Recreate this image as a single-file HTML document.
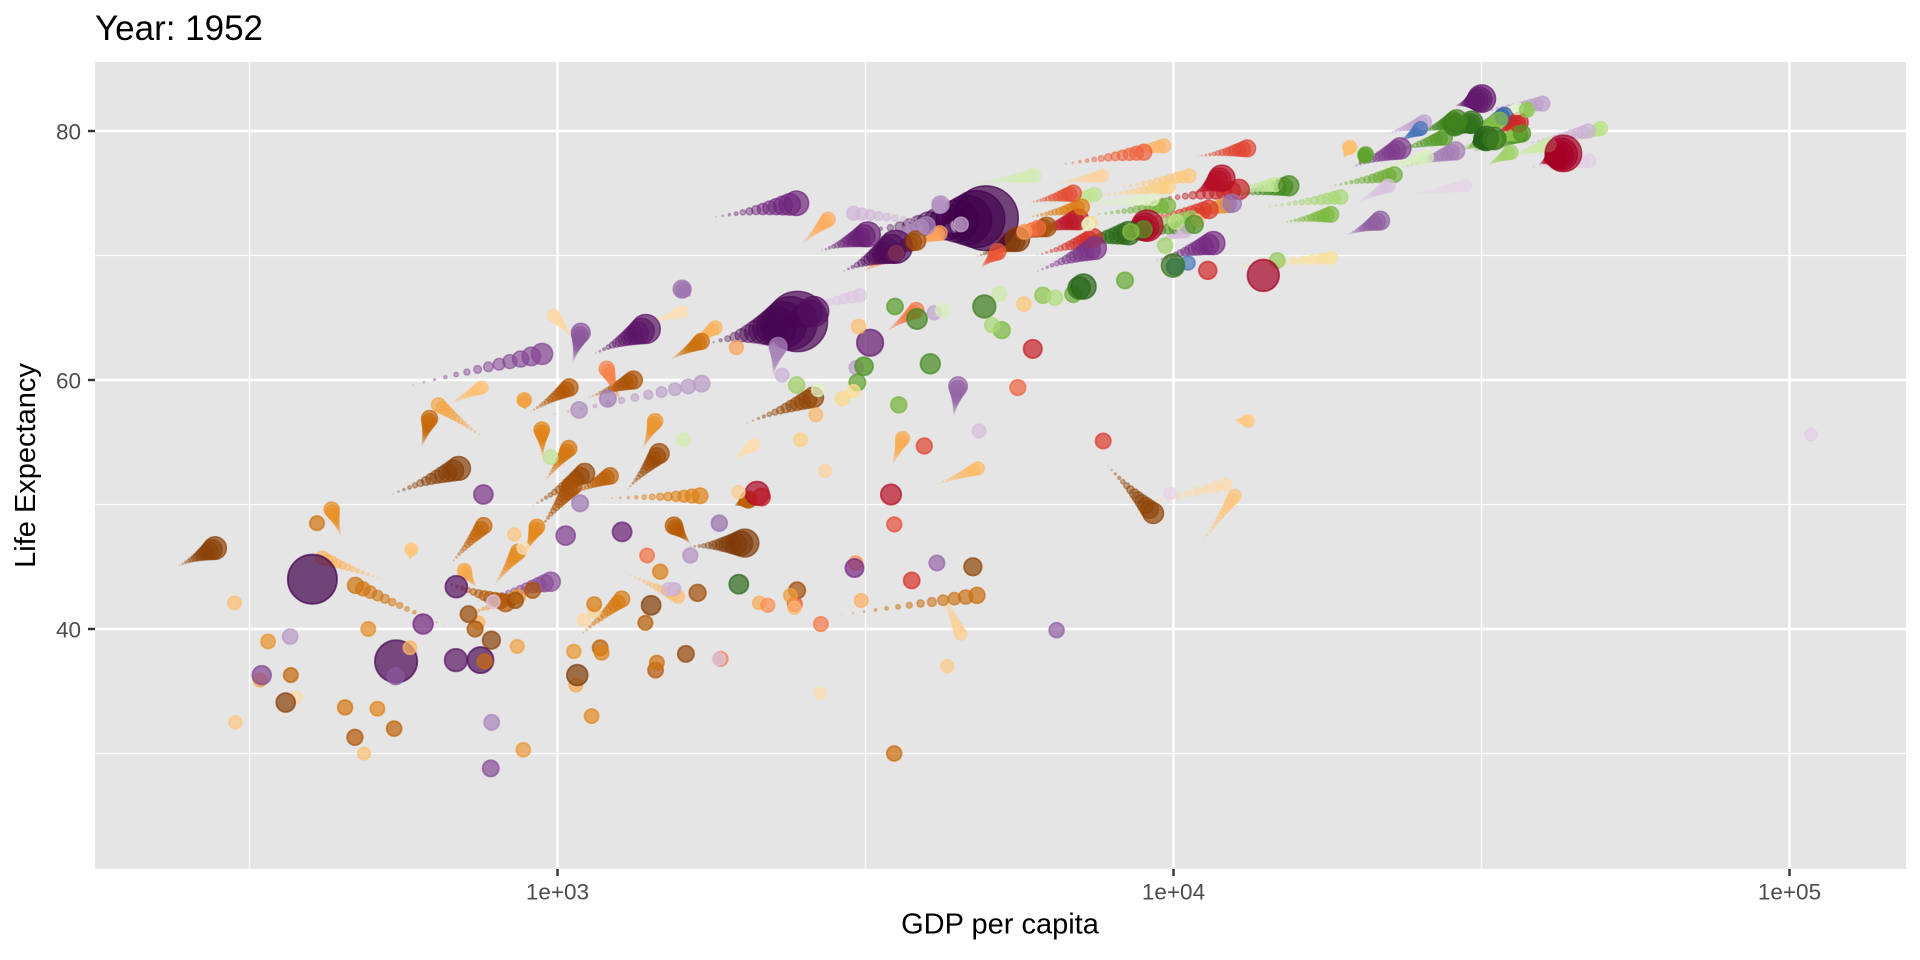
<!DOCTYPE html>
<html>
<head>
<meta charset="utf-8">
<style>
html,body{margin:0;padding:0;background:#fff;width:1920px;height:960px;overflow:hidden;}
svg{display:block;}
text{font-family:"Liberation Sans",Arial,sans-serif;}
</style>
</head>
<body>
<svg id="s" width="1920" height="960" viewBox="0 0 1920 960" xmlns="http://www.w3.org/2000/svg">
<defs><clipPath id="pc"><rect x="95" y="62" width="1811" height="807"/></clipPath></defs>
<rect width="1920" height="960" fill="#fff"/>
<rect x="95" y="62" width="1811" height="807" fill="#E5E5E5"/>
<g stroke="#fff" stroke-width="1.2">
<line x1="95" x2="1906" y1="255.5" y2="255.5"/>
<line x1="95" x2="1906" y1="504.5" y2="504.5"/>
<line x1="95" x2="1906" y1="753.5" y2="753.5"/>
<line y1="62" y2="869" x1="249.5" x2="249.5"/>
<line y1="62" y2="869" x1="865.5" x2="865.5"/>
<line y1="62" y2="869" x1="1481.5" x2="1481.5"/>
</g>
<g stroke="#fff" stroke-width="2.4">
<line x1="95" x2="1906" y1="131" y2="131"/>
<line x1="95" x2="1906" y1="380" y2="380"/>
<line x1="95" x2="1906" y1="629" y2="629"/>
<line y1="62" y2="869" x1="557.5" x2="557.5"/>
<line y1="62" y2="869" x1="1173.5" x2="1173.5"/>
<line y1="62" y2="869" x1="1789.5" x2="1789.5"/>
</g>
<g id="pts" clip-path="url(#pc)"></g>
<g stroke="#333" stroke-width="2.4">
<line x1="88" x2="95" y1="131" y2="131"/>
<line x1="88" x2="95" y1="380" y2="380"/>
<line x1="88" x2="95" y1="629" y2="629"/>
<line y1="869" y2="876" x1="557.5" x2="557.5"/>
<line y1="869" y2="876" x1="1173.5" x2="1173.5"/>
<line y1="869" y2="876" x1="1789.5" x2="1789.5"/>
</g>
<g fill="#4D4D4D" font-size="22.5">
<text x="81" y="139.5" text-anchor="end">80</text>
<text x="81" y="388.5" text-anchor="end">60</text>
<text x="81" y="637.5" text-anchor="end">40</text>
<text x="557.5" y="899.5" text-anchor="middle">1e+03</text>
<text x="1173.5" y="899.5" text-anchor="middle">1e+04</text>
<text x="1789.5" y="899.5" text-anchor="middle">1e+05</text>
</g>
<text x="1000" y="933.5" text-anchor="middle" font-size="29" fill="#000">GDP per capita</text>
<text transform="translate(35,465.5) rotate(-90)" text-anchor="middle" font-size="29" fill="#000">Life Expectancy</text>
<text x="95" y="40" font-size="35" fill="#000">Year: 1952</text>
</svg>
<script>
var D=[
[2,779,28.8,8.43,727,42.1,975,43.8,31.9],
[3,1601,55.2,1.28,4604,75.7,5937,76.4,3.6],
[0,2449,43.1,9.28,5288,71.0,6223,72.3,33.3],
[0,3521,30.0,4.23,2773,41.0,4797,42.7,12.4],
[1,5911,62.5,17.9,8798,74.3,12779,75.3,40.3],
[4,10040,69.1,8.69,30688,80.4,34435,81.2,20.4],
[3,6137,66.8,6.93,32418,79.0,36126,79.8,8.2],
[2,9867,50.9,0.12,23404,74.8,29796,75.6,0.71],
[2,684,37.5,46.9,1136,62.0,1391,64.1,150.4],
[3,8343,68.0,8.73,30486,78.3,33693,79.4,10.4],
[0,1063,38.2,1.74,1373,54.4,1441,56.7,8.08],
[1,2677,40.4,2.88,3413,63.9,3822,65.6,9.12],
[3,974,53.8,2.79,6019,74.1,7446,74.9,4.55],
[0,851,47.6,0.44,11004,46.6,12570,50.7,1.64],
[1,2109,50.9,56.6,8131,71.0,9066,72.4,190],
[3,2444,59.6,7.27,7697,72.1,10681,73.0,7.32],
[0,543,32.0,4.47,1038,50.7,1217,52.3,14.3],
[0,339,39.0,2.45,446,47.4,430,49.6,8.39],
[2,368,39.4,4.69,896,56.8,1714,59.7,14.1],
[0,1173,38.5,5.01,1934,49.9,2042,50.4,17.7],
[1,11367,68.8,14.8,33329,79.8,36319,80.7,33.4],
[0,1071,35.5,1.29,739,43.3,706,44.7,4.37],
[0,1179,38.1,2.68,1156,50.5,1704,50.7,10.2],
[1,3940,54.7,6.38,10779,77.9,13172,78.6,16.3],
[2,400,44.0,556,3119,72.0,4959,73.0,1319],
[1,2144,50.6,12.35,5755,71.7,7007,72.9,44.2],
[0,1103,40.7,0.154,1076,63.0,986,65.2,0.71],
[0,781,39.1,14.1,241,45.0,278,46.5,64.6],
[0,2126,42.1,0.855,3484,53.0,3633,55.3,3.8],
[1,2627,57.2,0.926,7723,78.1,9645,78.8,4.13],
[0,1389,40.5,2.98,1649,46.8,1545,48.3,18.0],
[3,3119,61.2,3.88,11628,74.9,14619,75.7,4.49],
[1,5587,59.4,6.01,6341,77.2,8948,78.3,11.4],
[3,6876,66.9,9.13,17596,75.5,22833,76.5,10.2],
[3,9692,70.8,4.33,32167,77.2,35278,78.3,5.47],
[0,2670,34.8,0.063,1908,53.4,2082,54.8,0.496],
[1,1398,45.9,2.49,4564,70.8,6025,72.2,9.32],
[1,3522,48.4,3.55,5773,74.2,6873,75.0,13.76],
[0,1419,41.9,22.2,4755,69.8,5581,71.3,80.3],
[1,3048,45.3,2.04,5352,70.7,5728,71.9,6.94],
[0,376,34.5,0.217,7704,49.3,12154,51.6,0.551],
[0,329,35.9,1.44,765,55.2,641,58.0,4.91],
[0,362,34.1,20.9,530,50.7,691,52.9,76.5],
[3,6425,66.6,4.09,28205,78.4,33207,79.3,5.24],
[3,7030,67.4,42.5,28926,79.6,30470,80.7,61.1],
[0,4293,37.0,0.421,12522,56.8,13206,56.7,1.45],
[0,485,30.0,0.284,661,58.0,753,59.4,1.69],
[3,7144,67.5,69.1,30036,78.7,32170,79.4,82.4],
[0,911,43.1,5.58,1112,58.5,1328,60.0,22.9],
[3,3531,65.9,7.73,22514,78.3,27538,79.5,10.7],
[1,2428,42.0,3.15,4858,69.0,5186,70.3,12.6],
[0,510,33.6,2.66,946,53.7,943,56.0,9.95],
[0,300,32.5,0.581,576,45.5,579,46.4,1.47],
[1,1840,37.6,3.2,1270,58.1,1202,60.9,8.5],
[1,2195,41.9,1.52,3100,68.6,3548,70.2,7.48],
[2,3054,61.0,2.13,30209,81.5,39725,82.2,6.98],
[3,5264,64.0,9.5,14844,72.6,18009,73.3,9.96],
[3,7268,72.5,0.148,31163,80.5,36181,81.8,0.302],
[2,547,37.4,372,1747,62.9,2452,64.7,1110],
[2,750,37.5,82.1,2874,68.6,3541,70.7,223.5],
[2,3035,44.9,17.3,9241,69.5,11606,71.0,69.5],
[2,4130,45.3,5.44,4391,57.0,4471,59.5,27.5],
[3,5210,66.9,2.95,34077,77.8,40676,78.9,4.11],
[2,4087,65.4,1.62,21906,79.7,25523,80.7,6.43],
[3,4931,65.9,47.7,27968,80.2,28570,80.5,58.1],
[1,2899,58.5,1.43,6995,72.0,7321,72.6,2.78],
[2,3217,63.0,86.5,28605,82.0,31656,82.6,127.5],
[2,1547,43.2,0.608,3845,71.3,4519,72.5,6.05],
[0,854,42.3,6.46,1288,51.0,1463,54.1,35.6],
[2,1088,50.1,8.87,1647,66.7,1593,67.3,23.3],
[2,1031,47.5,20.9,19234,77.0,23348,78.6,49.0],
[2,108382,55.6,0.16,35110,76.9,47307,77.6,2.51],
[2,4835,55.9,1.44,9314,71.0,10461,72.0,3.92],
[0,299,42.1,0.749,1275,44.6,1569,42.6,2.01],
[0,576,38.5,0.863,531,43.8,415,45.7,3.19],
[0,2388,42.7,1.02,9535,72.7,12057,74.0,6.04],
[0,1443,36.7,4.76,895,57.3,1045,59.4,19.2],
[0,369,36.3,2.92,665,45.0,759,48.3,13.3],
[2,1831,48.5,6.75,10207,73.0,12452,74.2,24.8],
[0,452,33.7,3.84,951,51.8,1043,54.5,12.0],
[0,743,40.5,1.02,1579,62.2,1803,64.2,3.27],
[0,1968,51.0,0.517,9022,72.0,10957,72.8,1.25],
[1,3478,50.8,30.1,10742,74.9,11978,76.2,108.7],
[2,787,42.2,0.8,2141,65.0,3096,66.8,2.87],
[3,2648,59.2,0.414,6557,74.0,9254,74.5,0.685],
[0,1688,42.9,9.94,3259,69.6,3820,71.2,33.8],
[0,469,31.3,6.45,634,44.0,824,42.1,20.0],
[2,331,36.3,20.1,560,59.4,944,62.1,47.8],
[0,2424,41.7,0.486,4072,51.5,4811,52.9,2.06],
[2,546,36.2,9.18,1057,61.3,1091,63.8,28.9],
[3,8942,72.1,10.4,33725,78.5,36798,79.8,16.6],
[4,10557,69.4,1.99,23190,79.1,25185,80.2,4.12],
[1,3112,42.3,1.17,2475,70.8,2749,72.9,5.68],
[0,762,37.4,3.38,601,54.5,620,56.9,12.9],
[0,1077,36.3,33.1,1615,46.6,2014,46.9,135],
[3,10095,72.7,3.33,44684,79.1,49357,80.2,4.63],
[2,1828,37.6,0.508,19775,74.2,22316,75.6,3.2],
[2,685,43.4,41.3,2093,63.6,2606,65.5,169.3],
[1,2480,55.2,0.94,7356,74.7,9809,75.5,3.24],
[1,1952,62.6,1.56,3784,70.8,4173,71.8,6.67],
[1,3759,43.9,8.03,5909,69.9,7409,71.4,28.7],
[2,1273,47.8,22.4,2651,70.3,3190,71.7,91.1],
[3,4029,61.3,25.7,12002,74.7,15390,75.6,38.5],
[3,3068,59.8,8.53,19971,77.3,20510,78.1,10.6],
[1,3082,64.3,2.23,18856,77.8,19329,78.7,3.94],
[0,2719,52.7,0.258,6316,75.7,7670,76.4,0.798],
[3,3145,61.1,16.6,7885,71.3,10808,72.5,22.3],
[0,493,40.0,2.53,786,43.4,863,46.2,8.86],
[0,880,46.5,0.06,1353,64.3,1598,65.5,0.2],
[2,6460,39.9,4.01,19015,71.6,21655,72.8,27.6],
[0,1450,37.3,2.76,1520,61.6,1712,63.1,12.3],
[3,3581,58.0,6.86,7236,73.2,9787,74.0,10.15],
[0,880,30.3,2.14,699,41.0,863,42.6,6.14],
[2,2315,60.4,1.13,36023,78.8,47143,80.0,4.55],
[3,5075,64.4,3.56,13639,73.8,18678,74.7,5.45],
[3,4215,65.6,1.49,20660,76.7,25768,77.9,2.01],
[0,1136,33.0,2.53,882,45.9,926,48.2,9.12],
[0,4725,45.0,14.3,7711,53.4,9270,49.3,44.0],
[3,3834,64.9,28.5,24835,79.8,28821,80.9,40.4],
[2,1084,57.6,7.98,3015,70.8,3970,72.4,20.4],
[0,1616,38.0,8.5,1993,56.4,2602,58.6,42.3],
[0,1148,41.4,0.29,4128,43.9,4513,39.6,1.13],
[3,8528,71.9,7.12,29342,80.0,33860,80.9,9.03],
[3,14734,69.6,4.82,34481,80.6,37506,81.7,7.55],
[2,1643,45.9,3.66,4091,73.1,4185,74.1,19.3],
[2,1207,58.5,8.55,23235,77.0,28718,78.4,23.2],
[0,717,41.2,8.32,899,49.7,1107,52.5,38.1],
[2,758,50.8,21.3,5913,68.6,7458,70.6,65.1],
[0,860,38.6,1.22,886,57.6,883,58.4,5.7],
[1,3023,59.1,0.663,11461,69.0,18009,69.8,1.06],
[0,1468,44.6,3.65,5723,73.0,7093,73.9,10.3],
[3,1969,43.6,22.2,6508,70.8,8458,71.8,71.2],
[0,735,40.0,5.82,928,47.8,1056,51.5,29.2],
[3,9980,69.2,50.4,29479,78.5,33203,79.4,60.8],
[1,13990,68.4,157.6,39097,77.3,42952,78.2,301.1],
[1,5717,66.1,2.25,7727,75.3,10611,76.4,3.45],
[1,7690,55.1,5.44,8605,72.8,11416,73.7,26.1],
[2,605,40.4,26.2,1764,73.0,2442,74.2,85.3],
[2,1516,43.2,1.03,4515,72.4,3025,73.4,4.02],
[2,782,32.5,4.96,2235,60.3,2281,62.7,22.2],
[0,1147,42.0,2.67,1072,39.2,1271,42.4,11.7],
[0,407,48.5,3.08,672,40.0,470,43.5,12.3]
];
var PAL=[
["#7F3B08","#B35806","#E08214","#FDB863","#FEE0B6"],
["#A50026","#D73027","#F46D43","#FDAE61","#FEE090"],
["#40004B","#762A83","#9970AB","#C2A5CF","#E7D4E8"],
["#276419","#4D9221","#7FBC41","#B8E186","#E6F5D0"],
["#3A62AA","#4A77BB"]
];
function hx(c){return [parseInt(c.substr(1,2),16),parseInt(c.substr(3,2),16),parseInt(c.substr(5,2),16)];}
function ramp(p,f){
  if(p.length==1) return p[0];
  var x=f*(p.length-1), i=Math.min(Math.floor(x),p.length-2), u=x-i;
  var a=hx(p[i]), b=hx(p[i+1]);
  return 'rgb('+[0,1,2].map(function(j){return Math.round(a[j]+(b[j]-a[j])*u);}).join(',')+')';
}
var cols=[];
for(var c=0;c<5;c++){
  var idx=[];
  for(var i=0;i<D.length;i++) if(D[i][0]==c) idx.push(i);
  idx.sort(function(a,b){return D[b][8]-D[a][8];});
  for(var r=0;r<idx.length;r++) cols[idx[r]]=ramp(PAL[c], idx.length>1? r/(idx.length-1):0);
}
function X(g){return 557.5+616*(Math.log(g)/Math.LN10-3);}
function Y(l){return 629-(l-40)*12.45;}
function R(p){return 5.8+29*Math.sqrt(p/1318.7);}
var NS="http://www.w3.org/2000/svg";
var G=document.getElementById('pts');
function circ(x,y,r,col,al,sw){
  var e=document.createElementNS(NS,'circle');
  e.setAttribute('cx',x.toFixed(1));
  e.setAttribute('cy',y.toFixed(1));
  e.setAttribute('r',Math.max(r,0.1).toFixed(2));
  e.setAttribute('fill',col);
  e.setAttribute('stroke',col);
  e.setAttribute('fill-opacity',al.toFixed(3));
  e.setAttribute('stroke-opacity',al.toFixed(3));
  e.setAttribute('stroke-width',sw);
  G.appendChild(e);
}
var N=13;
for(var k=1;k<=N;k++){
  var t=k/N, f=Math.pow(t,1.6), al=0.7*(0.3+0.7*t);
  for(var i=0;i<D.length;i++){
    var d=D[i];
    var x0=X(d[4]),y0=Y(d[5]),x1=X(d[6]),y1=Y(d[7]);
    circ(x0+(x1-x0)*t, y0+(y1-y0)*t, 0.93*R(d[8])*f, cols[i], al, 1.5);
  }
}
for(var i=0;i<D.length;i++){
  var d=D[i];
  circ(X(d[1]),Y(d[2]),R(d[3]),cols[i],0.7,1.8);
}
</script>
</body>
</html>
